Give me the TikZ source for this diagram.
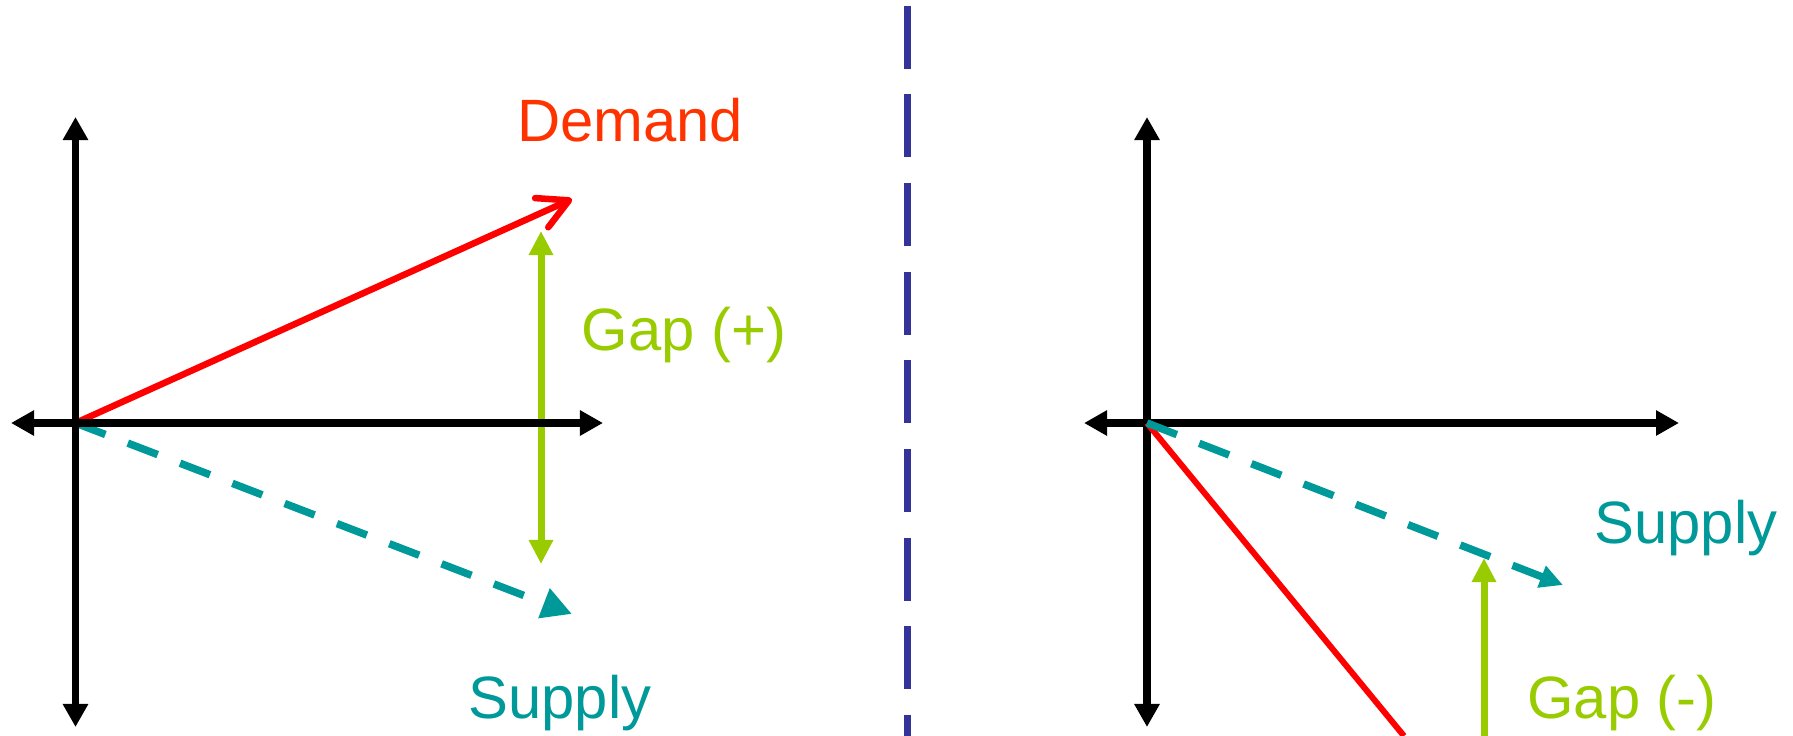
\documentclass[tikz,border=0pt]{standalone}
\usepackage{fontspec}
\setmainfont{Liberation Sans}
\usepackage{tikz}
\usetikzlibrary{arrows.meta}
\definecolor{demandred}{RGB}{255,51,0}
\definecolor{gapgreen}{RGB}{153,204,0}
\definecolor{supplyteal}{RGB}{0,153,153}
\definecolor{splitblue}{RGB}{51,51,153}

\begin{document}
\begin{tikzpicture}[
        x=0.01cm, y=-0.01cm,
        axis/.style={{Triangle[length=0.23cm, width=0.24cm]}-{Triangle[length=0.23cm, width=0.24cm]}, line width=0.075cm, draw=black},
        demandarrow/.style={-{Straight Barb[length=0.3cm, width=0.32cm, round]}, line width=0.065cm, draw=red},
        demandline/.style={line width=0.06cm, draw=red},
        supplyarrow/.style={-{Triangle[length=0.3cm, width=0.3cm]}, line width=0.075cm, draw=supplyteal, dash pattern=on 0.32cm off 0.24cm},
        gaparrow/.style={-{Triangle[length=0.24cm, width=0.23cm]}, line width=0.07cm, draw=gapgreen},
        lbl/.style={font=\fontsize{17}{20}\selectfont, inner sep=0pt, anchor=base}
    ]

    \useasboundingbox (0,0) rectangle (1793,736);

    % Points
    \coordinate (oL) at (75.5,423);
    \coordinate (oR) at (1147,423);
    \coordinate (axLl) at (11,423);
    \coordinate (axLr) at (603,423);
    \coordinate (axLt) at (75.5,117);
    \coordinate (axLb) at (75.5,727);
    \coordinate (axRl) at (1084,423);
    \coordinate (axRr) at (1679,423);
    \coordinate (axRt) at (1147,117);
    \coordinate (axRb) at (1147,727);
    \coordinate (demL) at (572,199);
    \coordinate (supL) at (572,614);
    \coordinate (gapLt) at (541,231);
    \coordinate (gapLb) at (541,564);
    \coordinate (demR) at (1404,736);
    \coordinate (supR) at (1563,585);
    \coordinate (gapRt) at (1484,558);
    \coordinate (gapRb) at (1484,736);
    \coordinate (splitT) at (907,5.7);
    \coordinate (splitB) at (907,736);

    % Labels
    \node[lbl, text=demandred] (demand) at (630,141) {Demand};
    \node[lbl, text=gapgreen] (gapplus) at (684,350) {Gap (+)};
    \node[lbl, text=supplyteal] (supplyL) at (560,718) {Supply};
    \node[lbl, text=supplyteal] (supplyR) at (1686,543) {Supply};
    \node[lbl, text=gapgreen] (gapminus) at (1622,718) {Gap (-)};

    % Divider
    \draw[splitblue, line width=0.07cm, dash pattern=on 0.63cm off 0.256cm] (splitT) -- (splitB);

    % Left graph
    \draw[gaparrow, {Triangle[length=0.24cm, width=0.23cm]}-{Triangle[length=0.24cm, width=0.23cm]}] (gapLt) -- (gapLb);
    \draw[demandarrow] (oL) -- (demL);
    \draw[supplyarrow] (oL) -- (supL);
    \draw[axis] (axLl) -- (axLr);
    \draw[axis] (axLb) -- (axLt);

    % Right graph
    \draw[axis] (axRl) -- (axRr);
    \draw[axis] (axRb) -- (axRt);
    \draw[demandline] (oR) -- (demR);
    \draw[gaparrow] (gapRb) -- (gapRt);
    \draw[supplyarrow, -{Triangle[length=0.23cm, width=0.22cm]}] (oR) -- (supR);

\end{tikzpicture}
\end{document}
